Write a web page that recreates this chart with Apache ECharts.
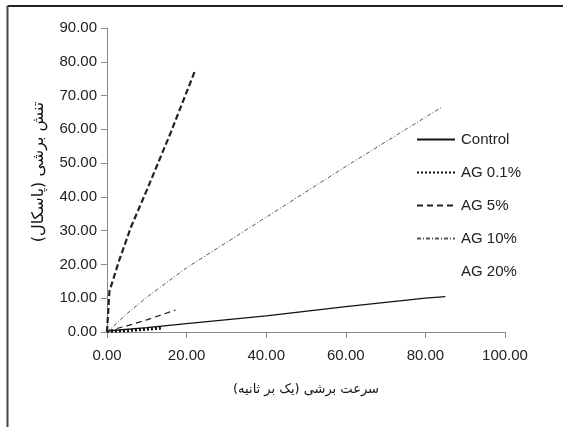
<!DOCTYPE html>
<html>
<head>
<meta charset="utf-8">
<script src="https://cdn.jsdelivr.net/npm/echarts@6/dist/echarts.min.js"></script>
<style>
  html, body { margin: 0; padding: 0; background: #fff; }
  #chart { width: 563px; height: 427px; }
</style>
</head>
<body>
<div id="chart"></div>
<script>
// Shear rate (1/s) vs shear stress (Pa) for each sample
const seriesNames = ['Control', 'AG 0.1%', 'AG 5%', 'AG 10%', 'AG 20%'];
const control = [[0, 0.3], [10, 1.3], [20, 2.5], [40, 4.8], [60, 7.5], [80, 10.0], [85, 10.5]];
const ag01 = [[0, 0.2], [5, 0.4], [10, 0.8], [14, 1.2]];
const ag5 = [[0, 0.3], [5, 1.8], [10, 3.6], [17.2, 6.5]];
const ag10 = [[0, 0], [5, 5.4], [10, 10.3], [20, 19.0], [40, 34.0], [60, 49.0], [84, 66.5]];
const ag20 = [[0, 0], [0.6, 12], [3, 21], [6, 31], [10, 42], [16, 59], [22, 77]];
const xTicks = [0, 20, 40, 60, 80, 100];
const yTicks = [0, 10, 20, 30, 40, 50, 60, 70, 80, 90];

const latin = '"Liberation Sans Narrow", "Liberation Sans", Arial, sans-serif';
const persian = '"DejaVu Sans", "Noto Sans", sans-serif';

const chart = echarts.init(document.getElementById('chart'), null, { renderer: 'canvas' });

function lineSeries(name, data, style) {
  return {
    name: name,
    type: 'line',
    data: data,
    showSymbol: false,
    symbol: 'none',
    smooth: false,
    itemStyle: { color: style.color },
    lineStyle: style,
    silent: true,
    animation: false
  };
}

chart.setOption({
  animation: false,
  backgroundColor: '#fff',
  grid: { left: 107, right: 58, top: 28, bottom: 95 },
  graphic: [
    // frame around the figure (top and left edges)
    { type: 'line', shape: { x1: 7.5, y1: 6, x2: 563, y2: 6 }, style: { stroke: '#222', lineWidth: 2 } },
    { type: 'line', shape: { x1: 7.5, y1: 6, x2: 7.5, y2: 427 }, style: { stroke: '#444', lineWidth: 2 } }
  ],
  legend: {
    orient: 'vertical',
    left: 411,
    top: 127,
    itemWidth: 38,
    itemHeight: 10,
    itemGap: 18,
    itemStyle: { opacity: 0 },
    textStyle: { fontFamily: latin, fontSize: 15, color: '#222', padding: [0, 0, 0, 1] },
    data: [
      { name: 'Control' },
      { name: 'AG 0.1%' },
      { name: 'AG 5%' },
      { name: 'AG 10%' },
      { name: 'AG 20%', lineStyle: { opacity: 0 } }
    ]
  },
  xAxis: {
    type: 'value',
    min: 0, max: 100, interval: 20,
    name: 'سرعت برشی (یک بر ثانیه)',
    nameLocation: 'middle',
    nameGap: 51,
    nameTextStyle: { fontFamily: persian, fontSize: 13, color: '#111' },
    axisLine: { show: true, lineStyle: { color: '#8a8a8a', width: 1 } },
    axisTick: { show: true, length: 6, lineStyle: { color: '#8a8a8a' } },
    axisLabel: {
      fontFamily: latin, fontSize: 15, color: '#222', margin: 16,
      formatter: v => v.toFixed(2)
    },
    splitLine: { show: false }
  },
  yAxis: {
    type: 'value',
    min: 0, max: 90, interval: 10,
    name: 'تنش برشی (پاسکال)',
    nameLocation: 'middle',
    nameGap: 60,
    nameRotate: 90,
    nameTextStyle: { fontFamily: persian, fontSize: 16, color: '#111', padding: [0, 0, 0, 16] },
    axisLine: { show: true, lineStyle: { color: '#8a8a8a', width: 1 } },
    axisTick: { show: true, length: 6, inside: false, lineStyle: { color: '#8a8a8a' } },
    axisLabel: {
      fontFamily: latin, fontSize: 15, color: '#222', margin: 10,
      formatter: v => v.toFixed(2)
    },
    splitLine: { show: false }
  },
  series: [
    lineSeries(seriesNames[0], control, { color: '#111', width: 1.3, type: 'solid' }),
    lineSeries(seriesNames[1], ag01, { color: '#111', width: 3, type: [2, 2] }),
    lineSeries(seriesNames[2], ag5, { color: '#222', width: 1.2, type: [6, 4] }),
    lineSeries(seriesNames[3], ag10, { color: '#555', width: 1, type: [4, 2, 1, 2] }),
    lineSeries(seriesNames[4], ag20, { color: '#222', width: 2.2, type: [6, 3] })
  ]
});
</script>
</body>
</html>
